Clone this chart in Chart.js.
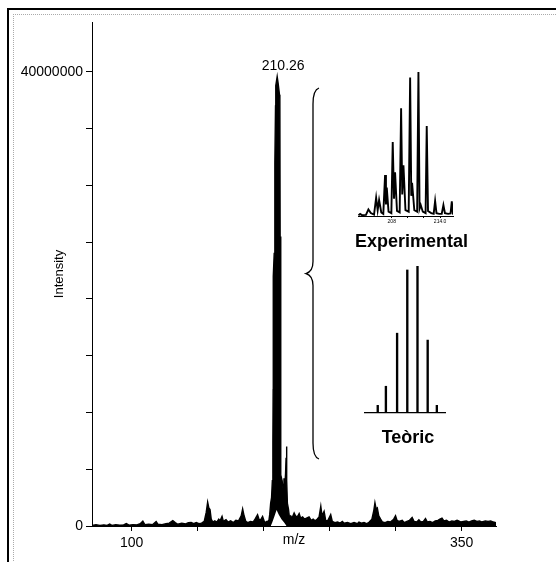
<!DOCTYPE html>
<html>
<head>
<meta charset="utf-8">
<script src="https://cdn.jsdelivr.net/npm/chart.js@4.4.0/dist/chart.umd.min.js"></script>
<style>
  html, body { margin: 0; padding: 0; background: #fff; overflow: hidden; }
  #frame { position: absolute; left: 7px; top: 8px; width: 600px; height: 600px;
           border-top: 2px solid #000; border-left: 2px solid #000; }
  #inner { position: absolute; left: 13px; top: 14px; width: 600px; height: 600px;
           border-top: 1px dotted #aaa; border-left: 1px dotted #aaa; }
  canvas { position: absolute; }
  #main { left: 0; top: 0; }
  #exp { left: 340px; top: 60px; }
  #theo { left: 340px; top: 250px; }
</style>
</head>
<body>
<div id="frame"></div>
<div id="inner"></div>
<canvas id="main" width="556" height="562"></canvas>
<canvas id="exp" width="130" height="200"></canvas>
<canvas id="theo" width="130" height="210"></canvas>
<script>
// espectre complet (m/z, intensitat en milions)
const mzValues = [
  70.0, 73.0, 76.0, 79.0, 81.5, 83.4, 85.0, 88.0, 91.0, 94.0, 96.0, 98.0,
  101.0, 104.0, 106.5, 108.5, 110.0, 113.0, 116.0, 118.6, 120.0, 123.0, 126.0, 128.5,
  131.2, 133.0, 135.0, 138.0, 141.0, 143.0, 145.1, 147.0, 149.0, 151.0, 153.0, 155.0,
  156.5, 157.6, 158.5, 159.4, 160.3, 161.5, 163.0, 164.5, 166.0, 167.0, 168.5, 169.5,
  171.5, 173.0, 175.0, 177.0, 179.0, 181.0, 183.0, 184.1, 185.2, 186.5, 188.0, 190.0,
  192.0, 193.5, 195.4, 196.5, 197.5, 199.2, 200.5, 201.5, 202.3,
  203.0, 204.0, 204.6, 205.3, 206.0, 206.6, 207.0, 207.2, 207.3, 208.0, 208.4, 208.6,
  209.0, 209.2, 210.26, 211.0, 212.0, 212.3, 212.5, 212.8, 213.0, 213.1, 213.6, 214.0,
  214.8, 215.4, 216.0, 216.6, 217.0, 217.3, 217.6, 218.0, 218.8, 219.5,
  220.5, 221.5, 223.1, 224.5, 226.0, 226.9, 228.0, 229.5, 231.0, 232.5, 234.4, 236.0,
  237.5, 239.0, 240.5, 242.0, 243.3, 244.2, 245.8, 247.0, 248.5, 250.8, 252.0, 254.0,
  256.0, 258.0, 259.6, 261.0, 263.5, 266.0, 268.5, 271.0, 272.2, 274.0, 276.0, 278.0,
  280.0, 282.0, 283.5, 284.3, 285.2, 286.1, 287.2, 288.6, 290.0, 292.0, 294.0, 296.0,
  298.5, 299.9, 301.0, 302.5, 305.0, 306.5, 308.5, 310.5, 312.5, 314.0, 316.0, 317.6,
  319.0, 321.0, 322.6, 324.0, 326.0, 328.0, 330.0, 332.0, 333.5, 335.1, 336.5, 338.5,
  340.5, 342.5, 344.5, 346.5, 347.7, 349.5, 351.5, 353.5, 355.5, 357.5, 359.5, 361.5,
  363.5, 365.5, 367.9, 370.0, 372.0, 374.0, 376.0
];
const intensityM = [
  0.05, 0.12, 0.05, 0.10, 0.05, 0.18, 0.05, 0.12, 0.08, 0.10, 0.22, 0.08,
  0.12, 0.10, 0.20, 0.42, 0.12, 0.15, 0.12, 0.40, 0.15, 0.12, 0.20, 0.25,
  0.48, 0.30, 0.15, 0.25, 0.18, 0.30, 0.32, 0.20, 0.30, 0.20, 0.25, 0.40,
  1.20, 2.10, 1.60, 1.45, 0.60, 0.35, 0.45, 0.35, 0.60, 0.45, 0.85, 0.40,
  0.55, 0.35, 0.45, 0.30, 0.50, 0.45, 0.90, 1.50, 0.90, 0.40, 0.30, 0.40,
  0.35, 0.60, 1.00, 0.60, 0.50, 0.85, 0.40, 0.30, 0.40,
  0.40, 0.50, 1.00, 2.00, 2.50, 4.00, 7.50, 12.0, 22.0, 24.0, 30.5, 32.0,
  37.0, 38.8, 39.6, 39.0, 38.0, 37.5, 25.5, 22.0, 16.0, 4.50, 4.20, 4.00,
  3.20, 4.20, 3.50, 4.60, 6.00, 7.00, 4.00, 2.00, 1.50, 0.80,
  0.90, 0.70, 1.15, 0.80, 0.90, 1.10, 0.70, 0.80, 0.60, 0.70, 0.80, 0.50,
  0.60, 0.45, 0.60, 0.80, 1.75, 0.90, 1.30, 0.50, 0.45, 1.00, 0.40, 0.30,
  0.35, 0.25, 0.40, 0.25, 0.30, 0.20, 0.30, 0.20, 0.35, 0.25, 0.30, 0.20,
  0.35, 0.60, 1.40, 2.05, 1.50, 1.60, 0.90, 0.60, 0.35, 0.30, 0.40, 0.35,
  0.60, 0.90, 0.50, 0.40, 0.50, 0.30, 0.40, 0.50, 0.75, 0.40, 0.35, 0.55,
  0.35, 0.40, 0.65, 0.35, 0.40, 0.30, 0.45, 0.50, 0.60, 0.70, 0.45, 0.50,
  0.35, 0.45, 0.40, 0.50, 0.45, 0.35, 0.40, 0.45, 0.35, 0.45, 0.50, 0.40,
  0.45, 0.35, 0.45, 0.40, 0.45, 0.35, 0.30
];
// forat blanc sota el cluster (envolupant inferior del traç)
const hollowMz = [205.4, 206.5, 208.0, 209.8, 211.5, 213.5, 215.5, 217.4];
const hollowM = [0, 0.3, 0.8, 1.4, 1.0, 0.6, 0.3, 0];

const xTicks = [100, 150, 200, 250, 300, 350];
const xTickLabels = ['100', '', '', '', '', '350'];
const yTicks = [0, 5000000, 10000000, 15000000, 20000000, 25000000, 30000000, 35000000, 40000000];
const yTickLabels = ['0', '', '', '', '', '', '', '', '40000000'];

// detall experimental (intensitat relativa %)
const expMz = [
  203.86, 204.07, 204.3, 204.8, 205.1, 205.4, 205.8, 206.06, 206.25, 206.43, 206.7, 206.95,
  207.17, 207.28, 207.38, 207.6, 207.95, 208.12, 208.28, 208.41, 208.65, 208.98, 209.16, 209.3,
  209.45, 209.7, 210.1, 210.28, 210.42, 210.52, 210.8, 211.15, 211.31, 211.45, 211.6, 211.85,
  212.2, 212.34, 212.5, 212.9, 213.2, 213.38, 213.55, 213.9, 214.2, 214.41, 214.6, 215.0,
  215.3, 215.45, 215.6
];
const expRel = [
  0.5, 1.4, 0.6, 0.8, 4.6, 2.0, 1.0, 12.7, 4.0, 11.1, 2.5, 1.5,
  28.5, 8.0, 19.7, 3.0, 2.0, 51.4, 12.0, 30.3, 3.5, 2.5, 74.8, 15.0,
  35.2, 4.0, 3.0, 96.1, 14.0, 23.1, 4.0, 3.0, 100, 5.0, 7.6, 3.0,
  2.0, 62.5, 3.5, 2.0, 1.5, 10.4, 2.0, 1.5, 1.5, 7.6, 2.0, 1.5,
  1.8, 10.2, 1.0
];
const expTicks = [208, 210, 212, 214];
const expTickLabels = ['208', '', '', '214.0'];

// patró isotòpic teòric
const theoMz = [206.0, 206.8, 207.9, 208.9, 209.9, 210.9, 211.8];
const theoRel = [5.2, 18.2, 54.3, 97.3, 100, 49.6, 5.2];

const FONT = 'Liberation Sans, Arial, sans-serif';

const mainDecor = {
  id: 'mainDecor',
  afterDraw(chart) {
    const { ctx, chartArea, scales } = chart;
    ctx.save();
    ctx.fillStyle = '#000';
    ctx.font = '14px ' + FONT;
    ctx.textAlign = 'center';
    ctx.textBaseline = 'middle';
    ctx.fillText('m/z', (chartArea.left + chartArea.right) / 2, chartArea.bottom + 14);

    ctx.save();
    ctx.translate(59, (chartArea.top + chartArea.bottom) / 2);
    ctx.rotate(-Math.PI / 2);
    ctx.font = '13px ' + FONT;
    ctx.fillText('Intensity', 0, 0);
    ctx.restore();

    // etiqueta del pic principal
    let k = 0;
    intensityM.forEach((v, i) => { if (v > intensityM[k]) k = i; });
    ctx.font = '14px ' + FONT;
    ctx.fillText(mzValues[k].toFixed(2),
      scales.x.getPixelForValue(mzValues[k]) + 6,
      scales.y.getPixelForValue(intensityM[k] * 1e6) - 10);

    // clau
    const bx = 313, top = 88, bot = 459, mid = (top + bot) / 2;
    ctx.strokeStyle = '#000';
    ctx.lineWidth = 1.3;
    ctx.beginPath();
    ctx.moveTo(bx + 6, top);
    ctx.quadraticCurveTo(bx, top + 2, bx, top + 16);
    ctx.lineTo(bx, mid - 12);
    ctx.quadraticCurveTo(bx, mid - 2, bx - 7, mid);
    ctx.quadraticCurveTo(bx, mid + 2, bx, mid + 12);
    ctx.lineTo(bx, bot - 16);
    ctx.quadraticCurveTo(bx, bot - 2, bx + 6, bot);
    ctx.stroke();
    ctx.restore();
  }
};

const caption = {
  id: 'caption',
  afterDraw(chart, args, opts) {
    const { ctx, chartArea } = chart;
    ctx.save();
    ctx.fillStyle = '#000';
    ctx.font = 'bold 18px ' + FONT;
    ctx.textAlign = 'center';
    ctx.textBaseline = 'middle';
    ctx.fillText(opts.text, (chartArea.left + chartArea.right) / 2 + opts.dx, chartArea.bottom + opts.dy);
    ctx.restore();
  }
};

new Chart(document.getElementById('main'), {
  type: 'line',
  data: {
    datasets: [
      {
        data: hollowMz.map((m, i) => ({ x: m, y: hollowM[i] * 1e6 })),
        order: 0,
        borderWidth: 0,
        pointRadius: 0,
        fill: 'origin',
        backgroundColor: '#fff'
      },
      {
        data: mzValues.map((m, i) => ({ x: m, y: intensityM[i] * 1e6 })),
        order: 1,
        borderColor: '#000',
        borderWidth: 1.4,
        pointRadius: 0,
        tension: 0,
        fill: 'origin',
        backgroundColor: '#000'
      }
    ]
  },
  options: {
    responsive: false,
    animation: false,
    layout: { padding: { left: 0, top: 22, right: 60, bottom: 0 } },
    plugins: { legend: { display: false }, tooltip: { enabled: false } },
    scales: {
      x: {
        type: 'linear',
        min: 70,
        max: 376,
        afterBuildTicks: s => { s.ticks = xTicks.map(v => ({ value: v })); },
        afterFit: s => { s.height = 36; },
        grid: { drawOnChartArea: false, tickLength: 5, color: '#000' },
        border: { color: '#000', width: 1 },
        ticks: {
          color: '#000', font: { family: FONT, size: 14 }, padding: 4, maxRotation: 0,
          callback: (v) => xTickLabels[xTicks.indexOf(v)] || ''
        }
      },
      y: {
        min: 0,
        max: 44400000,
        afterBuildTicks: s => { s.ticks = yTicks.map(v => ({ value: v })); },
        afterFit: s => { s.width = 92; },
        grid: { drawOnChartArea: false, tickLength: 6, color: '#000' },
        border: { color: '#000', width: 1 },
        ticks: {
          color: '#000', font: { family: FONT, size: 14 }, padding: 3,
          callback: (v) => yTickLabels[yTicks.indexOf(v)] || ''
        }
      }
    }
  },
  plugins: [mainDecor]
});

new Chart(document.getElementById('exp'), {
  type: 'line',
  data: {
    datasets: [{
      data: expMz.map((m, i) => ({ x: m, y: expRel[i] })),
      borderColor: '#000',
      borderWidth: 1.9,
      pointRadius: 0,
      tension: 0
    }]
  },
  options: {
    responsive: false,
    animation: false,
    layout: { padding: { left: 18, top: 12, right: 17, bottom: 30 } },
    plugins: {
      legend: { display: false }, tooltip: { enabled: false },
      caption: { text: 'Experimental', dx: 6, dy: 26 }
    },
    scales: {
      x: {
        type: 'linear',
        min: 203.81,
        max: 215.6,
        afterBuildTicks: s => { s.ticks = expTicks.map(v => ({ value: v })); },
        afterFit: s => { s.height = 14; },
        grid: { drawOnChartArea: false, tickLength: 2, color: '#000' },
        border: { color: '#000', width: 1 },
        ticks: {
          color: '#000', font: { family: FONT, size: 5 }, padding: 1, maxRotation: 0,
          callback: (v) => expTickLabels[expTicks.indexOf(v)] || ''
        }
      },
      y: { display: false, min: 0, max: 100 }
    }
  },
  plugins: [caption]
});

new Chart(document.getElementById('theo'), {
  type: 'bar',
  data: {
    datasets: [{
      data: theoMz.map((m, i) => ({ x: m, y: theoRel[i] })),
      backgroundColor: '#000',
      barThickness: 1.7
    }]
  },
  options: {
    responsive: false,
    animation: false,
    layout: { padding: { left: 25, top: 16, right: 25, bottom: 46 } },
    plugins: {
      legend: { display: false }, tooltip: { enabled: false },
      caption: { text: 'Teòric', dx: 3, dy: 25 }
    },
    scales: {
      x: {
        type: 'linear',
        offset: false,
        min: 204.75,
        max: 212.6,
        afterFit: s => { s.height = 1; },
        grid: { display: false },
        border: { color: '#000', width: 1.2 },
        ticks: { display: false }
      },
      y: { display: false, min: 0, max: 100 }
    }
  },
  plugins: [caption]
});
</script>
</body>
</html>
